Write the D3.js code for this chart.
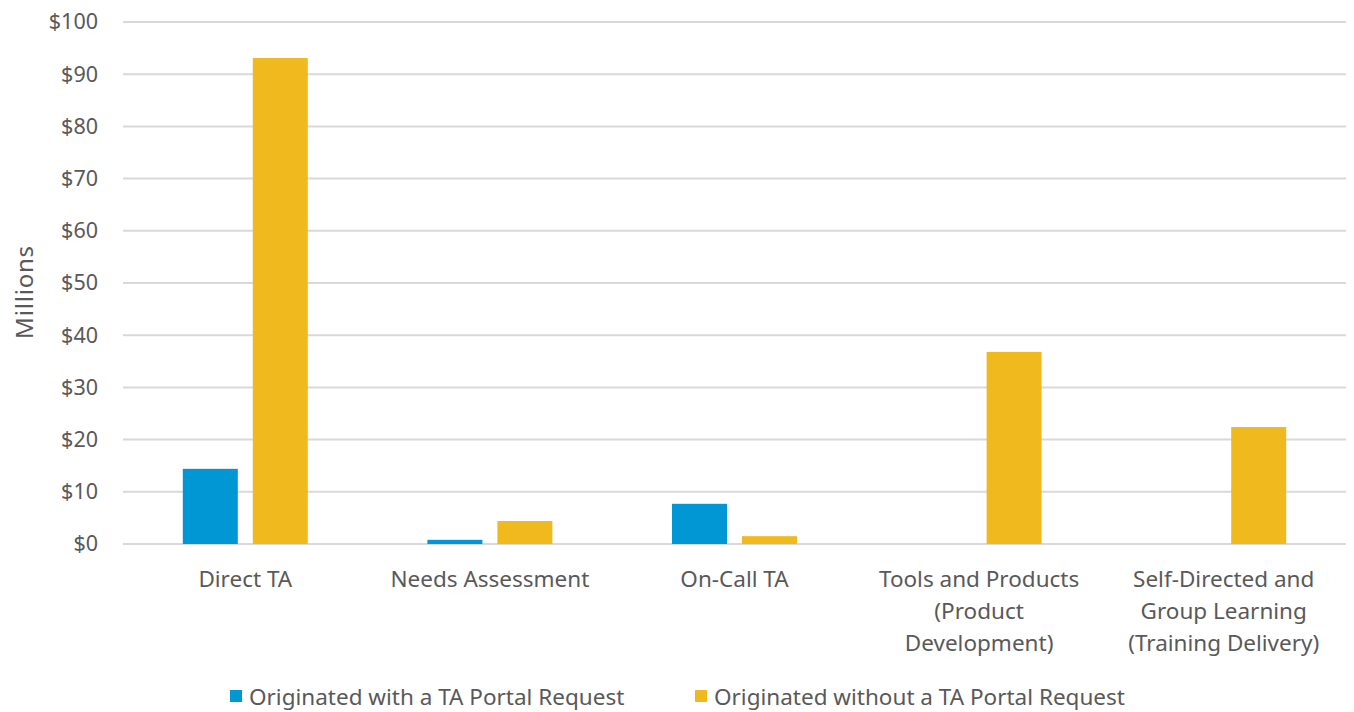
<!DOCTYPE html>
<html>
<head>
<meta charset="utf-8">
<script src="https://d3js.org/d3.v7.min.js"></script>
<style>
  body { margin: 0; background: #fff; }
  text { font-family: "Noto Sans", "Open Sans", sans-serif; fill: #595959; }
</style>
</head>
<body>
<div id="chart"></div>
<script>
    // categories (label lines) and the two series, in $ millions
    var categories = [
        ["Direct TA"],
        ["Needs Assessment"],
        ["On-Call TA"],
        ["Tools and Products", "(Product", "Development)"],
        ["Self-Directed and", "Group Learning", "(Training Delivery)"]
    ];
    var seriesNames = ["Originated with a TA Portal Request", "Originated without a TA Portal Request"];
    var withPortal = [14.4, 0.8, 7.7, 0, 0];
    var withoutPortal = [93.1, 4.4, 1.5, 36.8, 22.4];
    var yTicks = [0, 10, 20, 30, 40, 50, 60, 70, 80, 90, 100];
    var colors = ["#0097d4", "#f0b91e"];

    var W = 1354, H = 712;
    var margin = {top: 22, right: 8, bottom: 168, left: 123};
    var width = W - margin.left - margin.right,
        height = H - margin.top - margin.bottom;

    var svg = d3.select("#chart").append("svg")
        .attr("width", W).attr("height", H);
    var g = svg.append("g")
        .attr("transform", "translate(" + margin.left + "," + margin.top + ")");

    var keys = categories.map(function(c) { return c.join(" "); });
    var x0 = d3.scaleBand().domain(keys).range([0, width]).padding(0);
    var x1 = d3.scaleBand().domain([0, 1])
        .range([x0.bandwidth() / 2 - 62.5, x0.bandwidth() / 2 + 62.5])
        .paddingInner(0.214);
    var y = d3.scaleLinear().domain([0, 100]).range([height, 0]);

    // gridlines
    g.selectAll(".grid").data(yTicks).enter().append("line")
        .attr("x1", 0).attr("x2", width)
        .attr("y1", function(d) { return y(d); })
        .attr("y2", function(d) { return y(d); })
        .attr("stroke", "#d9d9d9").attr("stroke-width", 2);

    // y axis labels
    var yAxis = g.append("g").call(d3.axisLeft(y).tickValues(yTicks)
        .tickSize(0).tickPadding(25).tickFormat(function(d) { return "$" + d; }));
    yAxis.select(".domain").remove();
    yAxis.selectAll("text").attr("font-size", 21.5)
        .style("font-family", "\"Noto Sans\", sans-serif").attr("fill", "#595959");

    svg.append("text")
        .attr("transform", "translate(33," + (margin.top + height / 2 + 9) + ") rotate(-90)")
        .attr("text-anchor", "middle").attr("font-size", 24)
        .attr("letter-spacing", 0.8)
        .text("Millions");

    // bars
    var rows = keys.map(function(k, i) { return {key: k, vals: [withPortal[i], withoutPortal[i]]}; });
    var grp = g.selectAll(".cat").data(rows).enter().append("g")
        .attr("transform", function(d) { return "translate(" + x0(d.key) + ",0)"; });
    grp.selectAll("rect").data(function(d) { return d.vals.map(function(v, s) { return {s: s, v: v}; }); })
        .enter().append("rect")
        .attr("x", function(d) { return x1(d.s); })
        .attr("width", x1.bandwidth())
        .attr("y", function(d) { return y(d.v); })
        .attr("height", function(d) { return height - y(d.v); })
        .attr("fill", function(d) { return colors[d.s]; });

    // category labels
    var labels = g.selectAll(".xl").data(categories).enter().append("text")
        .attr("text-anchor", "middle").attr("font-size", 22.5)
        .attr("transform", function(d, i) {
            return "translate(" + (x0(keys[i]) + x0.bandwidth() / 2) + "," + (height + 43) + ")";
        });
    labels.selectAll("tspan").data(function(d) { return d; }).enter().append("tspan")
        .attr("x", 0).attr("y", function(d, i) { return i * 32; })
        .text(function(d) { return d; });

    // legend
    var legendX = [230, 695];
    var leg = svg.selectAll(".leg").data(seriesNames).enter().append("g")
        .attr("transform", function(d, i) { return "translate(" + legendX[i] + ",690)"; });
    leg.append("rect").attr("width", 12).attr("height", 12)
        .attr("fill", function(d, i) { return colors[i]; });
    leg.append("text").attr("x", 19).attr("y", 15).attr("font-size", 22.5)
        .text(function(d) { return d; });
</script>
</body>
</html>
